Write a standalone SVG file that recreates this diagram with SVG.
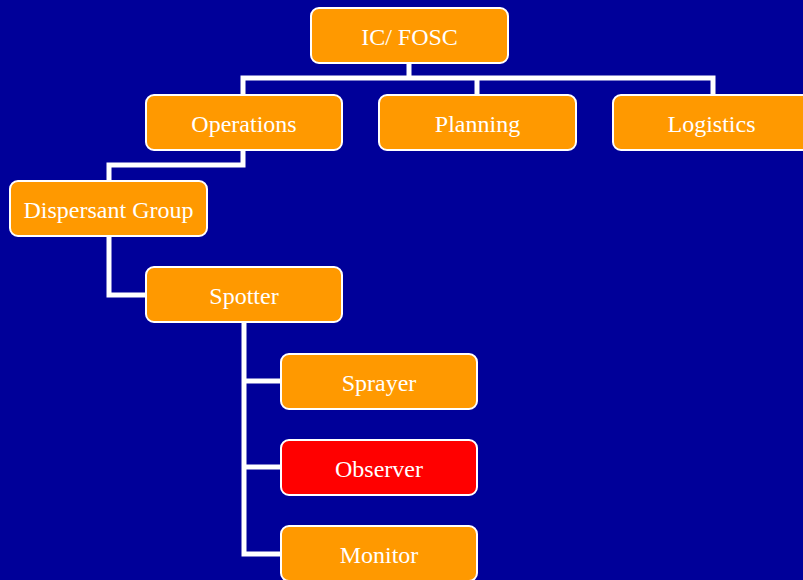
<svg xmlns="http://www.w3.org/2000/svg" width="803" height="580" viewBox="0 0 803 580">
  <style>
    .box { fill: #FF9900; stroke: #FFFFFF; stroke-width: 2; }
    .hot { fill: #FF0000; stroke: #FFFFFF; stroke-width: 2; }
    .lbl { fill: #FFFFFF; font-family: "Liberation Serif", "Times New Roman", serif; font-size: 24px; text-anchor: middle; }
    .wire { fill: none; stroke: #FFFFFF; stroke-width: 5; stroke-linejoin: miter; }
  </style>
  <rect width="803" height="580" fill="#000099"/>

  <!-- connectors -->
  <g id="connectors">
    <path class="wire" d="M409,63 V78"/>
    <path class="wire" d="M243,95 V78 H713 V95"/>
    <path class="wire" d="M477,78 V95"/>
    <path class="wire" d="M243,150 V165 H109 V181"/>
    <path class="wire" d="M109,236 V295 H146"/>
    <path class="wire" d="M244,322 V554 H281"/>
    <path class="wire" d="M244,381 H281"/>
    <path class="wire" d="M244,467 H281"/>
  </g>

  <g id="ic-fosc">
    <rect class="box" x="311" y="8" width="197" height="55" rx="8"/>
    <text class="lbl" x="409.5" y="45">IC/ FOSC</text>
  </g>
  <g id="operations">
    <rect class="box" x="146" y="95" width="196" height="55" rx="8"/>
    <text class="lbl" x="244" y="132">Operations</text>
  </g>
  <g id="planning">
    <rect class="box" x="379" y="95" width="197" height="55" rx="8"/>
    <text class="lbl" x="477.5" y="132">Planning</text>
  </g>
  <g id="logistics">
    <rect class="box" x="613" y="95" width="197" height="55" rx="8"/>
    <text class="lbl" x="711.5" y="132">Logistics</text>
  </g>
  <g id="dispersant-group">
    <rect class="box" x="10" y="181" width="197" height="55" rx="8"/>
    <text class="lbl" x="108.5" y="218">Dispersant Group</text>
  </g>
  <g id="spotter">
    <rect class="box" x="146" y="267" width="196" height="55" rx="8"/>
    <text class="lbl" x="244" y="304">Spotter</text>
  </g>
  <g id="sprayer">
    <rect class="box" x="281" y="354" width="196" height="55" rx="8"/>
    <text class="lbl" x="379" y="391">Sprayer</text>
  </g>
  <g id="observer">
    <rect class="hot" x="281" y="440" width="196" height="55" rx="8"/>
    <text class="lbl" x="379" y="477">Observer</text>
  </g>
  <g id="monitor">
    <rect class="box" x="281" y="526" width="196" height="55" rx="8"/>
    <text class="lbl" x="379" y="563">Monitor</text>
  </g>
</svg>
